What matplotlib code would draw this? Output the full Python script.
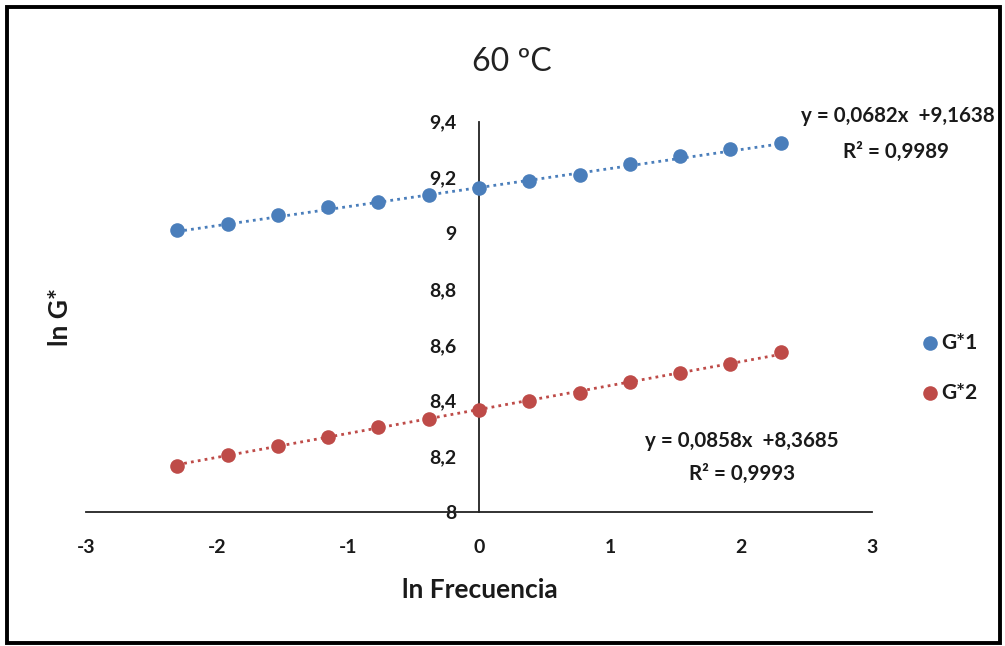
import matplotlib
matplotlib.use("Agg")
import matplotlib.pyplot as plt
from matplotlib.patches import Rectangle
from matplotlib.lines import Line2D
import numpy as np

plt.rcParams['font.family'] = ['Lato', 'DejaVu Sans']

# ---- data ----
ln_freq = [-2.303, -1.919, -1.535, -1.151, -0.768, -0.384, 0.0,
           0.384, 0.768, 1.151, 1.535, 1.919, 2.303]
g1 = [9.011, 9.035, 9.067, 9.093, 9.111, 9.136, 9.162,
      9.186, 9.210, 9.250, 9.276, 9.302, 9.324]
g2 = [8.166, 8.205, 8.239, 8.271, 8.305, 8.333, 8.367,
      8.399, 8.429, 8.466, 8.498, 8.530, 8.573]
series_names = ['G*1', 'G*2']
slopes = [0.0682, 0.0858]
intercepts = [9.1638, 8.3685]
eq_lines = ['y = 0,0682x  +9,1638', 'y = 0,0858x  +8,3685']
r2_lines = ['R² = 0,9989', 'R² = 0,9993']
x_ticks = [-3, -2, -1, 0, 1, 2, 3]
y_ticks = [8.0, 8.2, 8.4, 8.6, 8.8, 9.0, 9.2, 9.4]
y_tick_labels = ['8', '8,2', '8,4', '8,6', '8,8', '9', '9,2', '9,4']
title = '60 ºC'
xlabel = 'ln Frecuencia'
ylabel = 'ln G*'

colors = ['#4a7ebb', '#be4b48']
txt = '#1a1a1a'

W, H = 1005, 646
fig = plt.figure(figsize=(W / 100, H / 100), dpi=100)
fig.patch.set_facecolor('white')

def fx(px):
    return px / W

def fy(py):
    return 1 - py / H

ax = fig.add_axes([fx(86), fy(512.3), fx(872) - fx(86), fy(121.7) - fy(512.3)])
ax.set_xlim(-3, 3)
ax.set_ylim(8, 9.4)
ax.set_facecolor('none')

for sp in ['top', 'right']:
    ax.spines[sp].set_visible(False)
ax.spines['left'].set_position(('data', 0))
ax.spines['bottom'].set_position(('data', 8))
for sp in ['left', 'bottom']:
    ax.spines[sp].set_color('#222222')
    ax.spines[sp].set_linewidth(1.3)

ax.set_xticks(x_ticks)
ax.set_xticklabels([str(v) for v in x_ticks])
ax.set_yticks(y_ticks)
ax.set_yticklabels(y_tick_labels)
ax.tick_params(axis='both', length=0, labelsize=14, colors=txt)
for lab in ax.get_xticklabels() + ax.get_yticklabels():
    lab.set_fontweight('bold')
ax.tick_params(axis='x', pad=19)
ax.tick_params(axis='y', pad=16)

ys = [g1, g2]
for i in range(2):
    xs = np.array([ln_freq[0], ln_freq[-1]])
    ax.plot(xs, slopes[i] * xs + intercepts[i], linestyle=(0, (1, 1.5)),
            color=colors[i], lw=2.0, zorder=2)
    ax.plot(ln_freq, ys[i], 'o', color=colors[i], markersize=10.5,
            markeredgewidth=0, zorder=3, label=series_names[i])

# equation labels
eq_pos = [((898, 115.5), (896, 152)), ((741.5, 441), (742, 474))]
for i in range(2):
    (x1, y1), (x2, y2) = eq_pos[i]
    fig.text(fx(x1), fy(y1), eq_lines[i], ha='center', va='center',
             fontsize=14.8, fontweight='bold', color=txt)
    fig.text(fx(x2), fy(y2), r2_lines[i], ha='center', va='center',
             fontsize=14.8, fontweight='bold', color=txt)

# title and axis labels
fig.text(fx(512), fy(62), title, ha='center', va='center', fontsize=23,
         color='#222222')
fig.text(fx(480), fy(590), xlabel, ha='center', va='center', fontsize=19,
         fontweight='bold', color=txt)
fig.text(fx(60), fy(317), ylabel, ha='center', va='center', fontsize=19,
         fontweight='bold', rotation=90, color=txt)

# legend
for i, name in enumerate(series_names):
    yy = [343, 393][i]
    fig.add_artist(Line2D([fx(930)], [fy(yy)], marker='o', color=colors[i],
                          markersize=10.5, markeredgewidth=0,
                          transform=fig.transFigure))
    fig.text(fx(941), fy(yy), name, ha='left', va='center', fontsize=15,
             fontweight='bold', color=txt)

# frame
fig.add_artist(Rectangle((fx(7), fy(643)), fx(1000) - fx(7), fy(7) - fy(643),
                         transform=fig.transFigure, fill=False,
                         edgecolor='black', linewidth=2.8))

fig.savefig('out.png', dpi=100, facecolor='white')
